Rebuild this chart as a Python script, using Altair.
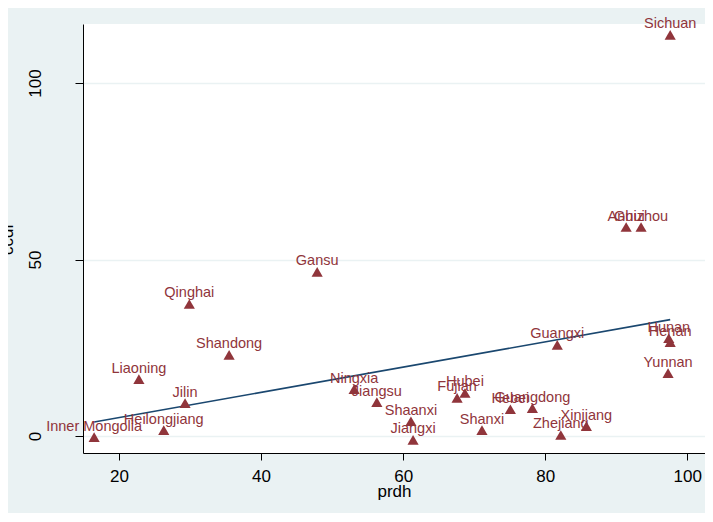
import altair as alt
import pandas as pd

provinces = ["Inner Mongolia", "Heilongjiang", "Jilin", "Liaoning", "Qinghai", "Shandong",
             "Gansu", "Ningxia", "Jiangsu", "Shaanxi", "Jiangxi", "Fujian", "Hubei", "Shanxi",
             "Hebei", "Guangdong", "Zhejiang", "Xinjiang", "Guangxi", "Anhui", "Guizhou",
             "Hunan", "Henan", "Yunnan", "Sichuan"]
prdh = [16.5, 26.3, 29.3, 22.8, 29.9, 35.5, 47.9, 53.1, 56.3, 61.1, 61.4, 67.6, 68.7, 71.1,
        75.1, 78.2, 82.2, 85.8, 81.7, 91.4, 93.5, 97.4, 97.6, 97.3, 97.6]
ccdr = [-0.3, 1.7, 9.3, 16.1, 37.4, 23.0, 46.5, 13.3, 9.6, 4.2, -1.1, 10.8, 12.2, 1.7,
        7.6, 7.9, 0.3, 2.8, 25.8, 59.2, 59.2, 27.7, 26.6, 17.8, 113.6]
x_ticks = [20, 40, 60, 80, 100]
y_ticks = [0, 50, 100]

df = pd.DataFrame({"province": provinces, "prdh": prdh, "ccdr": ccdr})

FONT = "Liberation Sans"
RED = "#90353B"
NAVY = "#1A476F"

x_enc = alt.X("prdh:Q",
              scale=alt.Scale(domain=[14.93, 102.5], nice=False, zero=False),
              axis=alt.Axis(values=x_ticks, title="prdh", grid=False,
                            domainColor="black", domainWidth=1,
                            tickColor="black", tickSize=7, tickWidth=1,
                            labelFont=FONT, labelFontSize=17, labelColor="black",
                            labelBaseline="alphabetic", labelPadding=21,
                            titleFont=FONT, titleFontSize=17, titleFontWeight="normal",
                            titleColor="black", titleBaseline="alphabetic", titleY=43))
y_enc = alt.Y("ccdr:Q",
              scale=alt.Scale(domain=[-4.8, 116.7], nice=False, zero=False),
              axis=alt.Axis(values=y_ticks, title="ccdr", grid=True,
                            gridColor="#EAF2F3", gridWidth=1.5,
                            domainColor="black", domainWidth=1,
                            tickColor="black", tickSize=8, tickWidth=1,
                            labelFont=FONT, labelFontSize=17, labelColor="black",
                            labelAngle=270, labelAlign="center", labelBaseline="alphabetic",
                            labelPadding=35,
                            titleFont=FONT, titleFontSize=17, titleFontWeight="normal",
                            titleColor="black", titleAngle=270, titleAlign="center",
                            titleBaseline="alphabetic", titleX=-71, titleY=214.5))

base = alt.Chart(df)

points = base.mark_point(shape="triangle-up", filled=True, size=125, color=RED,
                         opacity=1).encode(x=x_enc, y=y_enc)
labels = base.mark_text(dy=-6.5, baseline="alphabetic", align="center", font=FONT,
                        fontSize=14.5, color=RED).encode(x="prdh:Q", y="ccdr:Q",
                                                           text="province:N")
fit = base.transform_regression("prdh", "ccdr").mark_line(
    color=NAVY, strokeWidth=1.6).encode(x="prdh:Q", y="ccdr:Q")

chart = alt.layer(fit, points, labels).properties(
    width=622, height=429,
    autosize=alt.AutoSizeParams(type="none"),
    padding={"left": 75, "top": 16, "right": 0, "bottom": 60},
    background="#EAF2F3",
).configure_view(fill="white", stroke=None)

chart.save("out.html", embed_options={"renderer": "svg", "actions": False})
